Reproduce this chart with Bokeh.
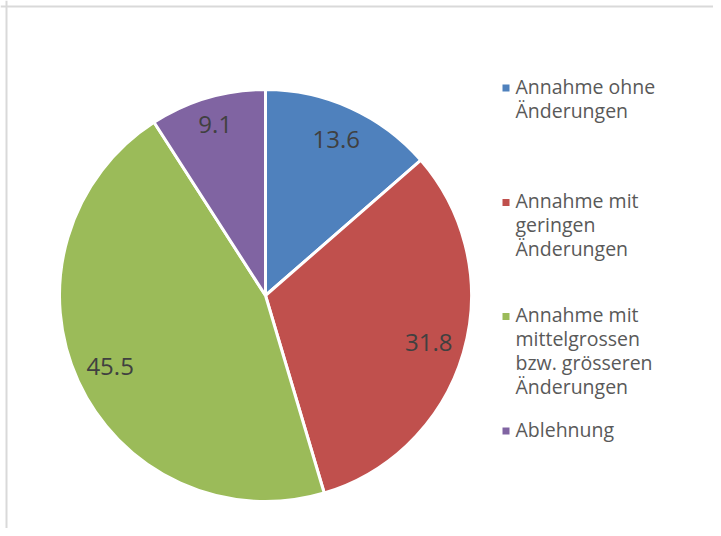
import math
from bokeh.plotting import figure
from bokeh.models import Range1d, Span, ColumnDataSource
from bokeh.core.properties import value
from bokeh.embed import file_html
from bokeh.resources import INLINE

# ---- data ----
categories = [
    "Annahme ohne\nÄnderungen",
    "Annahme mit\ngeringen\nÄnderungen",
    "Annahme mit\nmittelgrossen\nbzw. grösseren\nÄnderungen",
    "Ablehnung",
]
values = [13.6, 31.8, 45.5, 9.1]
colors = ["#4F81BD", "#C0504D", "#9BBB59", "#8064A2"]

# ---- layout (pixels; figure coords == pixel coords, y measured from top) ----
W, H = 713, 528
cx, cy_top, R = 265, 295, 206
label_r_frac = [0.83, 0.825, 0.83, 0.865]
legend_y_top = [87.5, 202, 316, 430.5]  # centre of first line, from top
legend_sq_x = 505.5
legend_tx_x = 515
legend_tx_dy = 2
line_h = 24


def Y(top):
    return H - top


p = figure(width=W, height=H, output_backend="svg", toolbar_location=None,
           x_range=Range1d(0, W), y_range=Range1d(0, H), min_border=0)
p.axis.visible = False
p.grid.visible = False
p.outline_line_color = None
p.background_fill_color = "white"
p.border_fill_color = "white"

cy = Y(cy_top)
total = sum(values)
starts, ends, lx, ly, texts = [], [], [], [], []
cum = 0.0
for i, v in enumerate(values):
    a0 = math.pi / 2 - 2 * math.pi * cum / total
    a1 = math.pi / 2 - 2 * math.pi * (cum + v) / total
    starts.append(a0)
    ends.append(a1)
    m = math.pi / 2 - 2 * math.pi * (cum + v / 2) / total
    r = R * label_r_frac[i]
    lx.append(cx + r * math.cos(m))
    ly.append(cy + r * math.sin(m))
    texts.append(f"{v:.1f}")
    cum += v

src = ColumnDataSource(dict(start=starts, end=ends, color=colors))
p.wedge(x=cx, y=cy, radius=R, start_angle="start", end_angle="end",
        direction="clock", fill_color="color", line_color="white",
        line_width=3, source=src)

p.text(x=lx, y=ly, text=texts, text_align="center", text_baseline="middle",
       text_font=value("Open Sans"), text_font_size="24px", text_color="#404040")

# legend
for i, cat in enumerate(categories):
    yy = Y(legend_y_top[i])
    p.rect(x=[legend_sq_x], y=[yy], width=7, height=7, fill_color=colors[i],
           line_color=None)
    for j, line in enumerate(cat.split("\n")):
        p.text(x=[legend_tx_x], y=[yy + legend_tx_dy - j * line_h], text=[line],
               text_align="left", text_baseline="middle",
               text_font=value("Open Sans"), text_font_size="19.5px",
               text_color="#595959")

# chart border (top and left visible in reference)
p.add_layout(Span(location=Y(6), dimension="width", line_color="#d9d9d9", line_width=2))
p.add_layout(Span(location=6, dimension="height", line_color="#d9d9d9", line_width=2))

open("out.html", "w").write(file_html(p, INLINE))
